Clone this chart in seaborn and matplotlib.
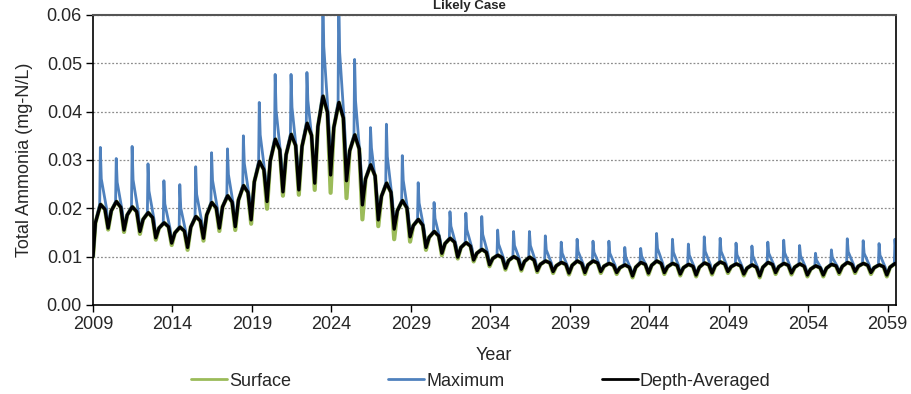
import pandas as pd
import seaborn as sns
import matplotlib.pyplot as plt

# Values, one entry per year 2009..2059
years = list(range(2009, 2060))
start_value = 0.010

# Depth-averaged: value on the rise, annual peak, value on the fall, annual low
davg_rise = [.0170, .0195, .0186, .0177, .0159, .0149, .0161, .0186, .0203, .0217,
             .0255, .0298, .0311, .0328, .0369, .0367, .0319, .0261, .0225, .0195,
             .0164, .0140, .0127, .0119, .0107, .0096, .0092, .0090, .0084, .0081,
             .0082, .0083, .0080, .0077, .0078, .0082, .0079, .0077, .0078, .0081,
             .0079, .0076, .0078, .0079, .0078, .0074, .0076, .0080, .0080, .0077, .0078]
davg_peak = [.0208, .0214, .0203, .0191, .0170, .0161, .0183, .0212, .0226, .0247,
             .0297, .0343, .0353, .0376, .0432, .0419, .0352, .0290, .0252, .0216,
             .0177, .0152, .0138, .0129, .0115, .0103, .0100, .0099, .0091, .0088,
             .0091, .0091, .0086, .0083, .0088, .0091, .0086, .0084, .0087, .0089,
             .0085, .0083, .0088, .0086, .0085, .0081, .0084, .0088, .0086, .0083, .0086]
davg_fall = [.0198, .0202, .0193, .0181, .0162, .0153, .0174, .0201, .0213, .0233,
             .0280, .0321, .0330, .0351, .0399, .0387, .0323, .0267, .0233, .0201,
             .0165, .0143, .0130, .0122, .0109, .0098, .0095, .0093, .0087, .0084,
             .0086, .0087, .0082, .0078, .0084, .0086, .0082, .0080, .0083, .0085,
             .0081, .0078, .0084, .0082, .0080, .0077, .0081, .0084, .0082, .0079, .0081]
davg_low = [.0159, .0155, .0152, .0139, .0128, .0119, .0138, .0159, .0162, .0176,
            .0214, .0234, .0238, .0252, .0269, .0257, .0207, .0176, .0157, .0141,
            .0119, .0107, .0099, .0093, .0083, .0076, .0074, .0071, .0069, .0066,
            .0067, .0069, .0067, .0060, .0066, .0067, .0064, .0062, .0066, .0069,
            .0064, .0060, .0067, .0066, .0062, .0062, .0067, .0069, .0067, .0062, .0062]

# Surface: follows the depth average but dips lower at the annual low
surf_low = [.0156, .0151, .0147, .0135, .0124, .0114, .0133, .0153, .0155, .0168,
            .0199, .0226, .0228, .0238, .0232, .0221, .0177, .0163, .0136, .0131,
            .0114, .0103, .0096, .0090, .0080, .0073, .0071, .0068, .0066, .0063,
            .0064, .0066, .0064, .0057, .0063, .0064, .0061, .0059, .0063, .0066,
            .0061, .0057, .0064, .0063, .0059, .0059, .0064, .0066, .0064, .0059, .0059]

# Maximum: annual spike, value just after it, late-year value, annual low
max_spike = [.0326, .0303, .0328, .0292, .0257, .0249, .0286, .0315, .0323, .0350,
             .0419, .0477, .0477, .0481, .0660, .0650, .0508, .0367, .0374, .0309,
             .0253, .0212, .0193, .0190, .0183, .0155, .0152, .0152, .0143, .0130,
             .0136, .0132, .0132, .0119, .0117, .0148, .0136, .0126, .0141, .0138,
             .0128, .0122, .0130, .0134, .0123, .0107, .0114, .0137, .0133, .0127, .0136]
max_after = [.0261, .0254, .0259, .0236, .0209, .0201, .0229, .0258, .0270, .0293,
             .0352, .0403, .0409, .0423, .0535, .0523, .0422, .0325, .0307, .0258,
             .0211, .0179, .0163, .0156, .0146, .0126, .0123, .0123, .0114, .0107,
             .0111, .0109, .0107, .0099, .0101, .0117, .0109, .0103, .0111, .0111,
             .0104, .0101, .0107, .0108, .0102, .0093, .0098, .0110, .0107, .0103, .0109]
max_late = [.0200, .0192, .0192, .0175, .0158, .0149, .0171, .0195, .0203, .0220,
            .0265, .0298, .0303, .0318, .0368, .0357, .0288, .0234, .0213, .0185,
            .0153, .0134, .0123, .0117, .0106, .0095, .0093, .0090, .0086, .0081,
            .0084, .0084, .0082, .0074, .0079, .0086, .0081, .0077, .0083, .0084,
            .0079, .0075, .0082, .0081, .0077, .0074, .0079, .0084, .0082, .0078, .0080]
max_low = [.0161, .0157, .0154, .0141, .0130, .0121, .0140, .0161, .0165, .0180,
           .0220, .0242, .0246, .0262, .0290, .0280, .0230, .0190, .0165, .0146,
           .0122, .0109, .0101, .0095, .0085, .0078, .0076, .0073, .0071, .0068,
           .0069, .0071, .0069, .0062, .0068, .0069, .0066, .0064, .0068, .0071,
           .0066, .0062, .0069, .0068, .0064, .0064, .0069, .0071, .0069, .0064, .0064]

series_names = ["Surface", "Maximum", "Depth-Averaged"]
colors = {"Surface": "#9BBB59", "Maximum": "#4F81BD", "Depth-Averaged": "#000000"}
xticks = list(range(2009, 2060, 5))

# Build long-form table: each year contributes its read values at fixed points in the year
rows = []
for name in series_names:
    rows.append((name, 2009.0, start_value))
for i, y in enumerate(years):
    rows += [("Depth-Averaged", y + 0.15, davg_rise[i]),
             ("Depth-Averaged", y + 0.47, davg_peak[i]),
             ("Depth-Averaged", y + 0.75, davg_fall[i]),
             ("Depth-Averaged", y + 0.95, davg_low[i])]
    rows += [("Surface", y + 0.15, davg_rise[i]),
             ("Surface", y + 0.47, davg_peak[i]),
             ("Surface", y + 0.75, davg_fall[i]),
             ("Surface", y + 0.95, surf_low[i])]
    rows += [("Maximum", y + 0.15, davg_rise[i]),
             ("Maximum", y + 0.42, davg_peak[i]),
             ("Maximum", y + 0.46, max_spike[i]),
             ("Maximum", y + 0.52, max_after[i]),
             ("Maximum", y + 0.85, max_late[i]),
             ("Maximum", y + 0.95, max_low[i])]
df = pd.DataFrame(rows, columns=["series", "year", "ammonia"])

sns.set_theme(style="white")
plt.rcParams['font.family'] = ['Liberation Sans', 'DejaVu Sans']

fig = plt.figure(figsize=(9.12, 3.94), dpi=100)
ax = fig.add_axes([0.102, 0.226, 0.88, 0.736])

sns.lineplot(data=df, x="year", y="ammonia", hue="series", hue_order=series_names,
             palette=colors, estimator=None, sort=False, ax=ax, legend=False)
for line, lw in zip(ax.lines, [3.0, 2.0, 2.4]):
    line.set_linewidth(lw)
    line.set_solid_joinstyle("round")

ax.set_xlim(2009, 2059.5)
ax.set_ylim(0, 0.06)
ax.set_xticks(xticks)
ax.set_yticks([0, 0.01, 0.02, 0.03, 0.04, 0.05, 0.06])
ax.yaxis.set_major_formatter(plt.FormatStrFormatter('%.2f'))
ax.tick_params(axis='both', direction='out', length=5, width=1, color='black',
               labelsize=13, bottom=True, left=True, pad=3)
ax.yaxis.grid(True, linestyle=(0, (1.5, 1.5)), color='#8c8c8c', linewidth=0.9)
ax.set_axisbelow(True)
for side in ['left', 'bottom', 'right']:
    ax.spines[side].set_color('black')
    ax.spines[side].set_linewidth(1.2)
ax.spines['top'].set_color('#555555')
ax.spines['top'].set_linestyle((0, (1.5, 1)))
ax.spines['top'].set_linewidth(1.5)

ax.set_xlabel("Year", fontsize=13, labelpad=10)
ax.set_ylabel("Total Ammonia (mg-N/L)", fontsize=13, labelpad=10)

# Title squeezed into the strip above the plot
fig.text(0.515, 0.999, "Likely Case", ha='center', va='top',
         fontsize=9.5, fontweight='bold')

handles = [plt.Line2D([], [], color=colors[n], lw=2.0) for n in series_names]
fig.legend(handles, series_names, loc='lower center', bbox_to_anchor=(0.527, -0.03),
           ncol=3, frameon=False, fontsize=13, handlelength=2.0,
           handletextpad=0.1, columnspacing=5.4)

fig.savefig('out.png', dpi=100)
